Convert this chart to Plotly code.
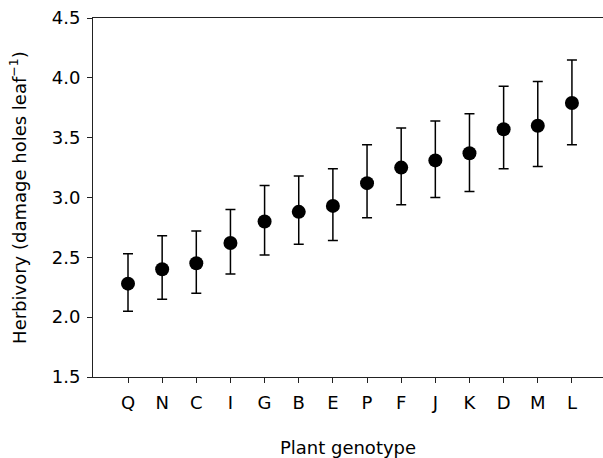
import plotly.graph_objects as go

genotypes = ["Q", "N", "C", "I", "G", "B", "E", "P", "F", "J", "K", "D", "M", "L"]
means = [2.28, 2.40, 2.45, 2.62, 2.80, 2.88, 2.93, 3.12, 3.25, 3.31, 3.37, 3.57, 3.60, 3.79]
upper = [2.53, 2.68, 2.72, 2.90, 3.10, 3.18, 3.24, 3.44, 3.58, 3.64, 3.70, 3.93, 3.97, 4.15]
lower = [2.05, 2.15, 2.20, 2.36, 2.52, 2.61, 2.64, 2.83, 2.94, 3.00, 3.05, 3.24, 3.26, 3.44]
y_ticks = [1.5, 2.0, 2.5, 3.0, 3.5, 4.0, 4.5]
y_tick_labels = ["1.5", "2.0", "2.5", "3.0", "3.5", "4.0", "4.5"]

err_plus = [u - m for u, m in zip(upper, means)]
err_minus = [m - l for m, l in zip(means, lower)]
xpos = list(range(len(genotypes)))

font = "DejaVu Sans, Liberation Sans, Arial, sans-serif"

fig = go.Figure(
    go.Scatter(
        x=xpos,
        y=means,
        mode="markers",
        marker=dict(color="black", size=14),
        error_y=dict(type="data", array=err_plus, arrayminus=err_minus,
                     color="black", thickness=1.5, width=5),
        showlegend=False,
    )
)

fig.update_layout(
    width=603,
    height=458,
    margin=dict(l=93, r=0, t=18, b=81),
    paper_bgcolor="white",
    plot_bgcolor="white",
    font=dict(family=font, size=18, color="black"),
)

fig.update_xaxes(
    range=[-1.025, 13.91],
    tickmode="array",
    tickvals=xpos,
    ticktext=genotypes,
    showline=True,
    linecolor="#222",
    linewidth=1,
    mirror=True,
    ticks="outside",
    ticklen=5,
    tickcolor="#222",
    ticklabelstandoff=4,
    showgrid=False,
    zeroline=False,
    automargin=False,
    title=dict(text="Plant genotype", standoff=32, font=dict(size=18)),
)

fig.update_yaxes(
    range=[1.5, 4.5],
    tickmode="array",
    tickvals=y_ticks,
    ticktext=y_tick_labels,
    showline=True,
    linecolor="#222",
    linewidth=1,
    ticks="outside",
    ticklen=5,
    tickcolor="#222",
    ticklabelstandoff=3,
    showgrid=False,
    zeroline=False,
    automargin=False,
    title=dict(text="Herbivory (damage holes leaf<sup>−1</sup>)", standoff=20, font=dict(size=18)),
)

fig.write_html("out.html", config={"displayModeBar": False},
               post_script="document.body.style.margin='0';")
